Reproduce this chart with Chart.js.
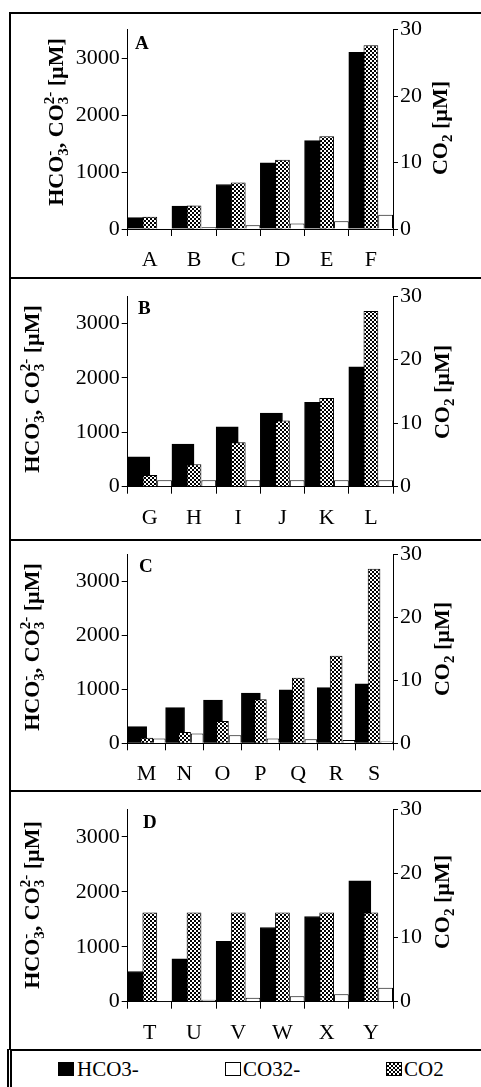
<!DOCTYPE html>
<html>
<head>
<meta charset="utf-8">
<title>HCO3-, CO32- and CO2</title>
<script src="https://cdn.jsdelivr.net/npm/chart.js@4.4.1/dist/chart.umd.min.js"></script>
<style>
  html, body { margin: 0; padding: 0; background: #fff; overflow: hidden; }
  body { width: 481px; height: 1087px; position: relative; font-family: 'Liberation Serif', 'Times New Roman', serif; }
  .box { position: absolute; left: 9px; width: 520px; border-left: 2px solid #000; border-top: 2px solid #000; box-sizing: border-box; }
  #legendBox { position: absolute; left: 7px; top: 1049px; width: 520px; height: 60px; border-left: 5px double #000; border-top: 2px solid #000; box-sizing: border-box; }
  canvas.panel { position: absolute; left: 0; }
  .sw { position: absolute; top: 1062px; width: 16px; height: 14px; box-sizing: border-box; border: 1px solid #000; }
  .lt { position: absolute; top: 1057px; font-size: 21px; line-height: 24px; color: #000; }
</style>
</head>
<body>
<div class="box" style="top:12px; height:265px"></div>
<div class="box" style="top:277px; height:262px"></div>
<div class="box" style="top:539px; height:251px"></div>
<div class="box" style="top:790px; height:259px"></div>
<div id="legendBox"></div>

<canvas id="cA" class="panel" style="top:12px" width="481" height="265"></canvas>
<canvas id="cB" class="panel" style="top:277px" width="481" height="262"></canvas>
<canvas id="cC" class="panel" style="top:539px" width="481" height="251"></canvas>
<canvas id="cD" class="panel" style="top:790px" width="481" height="259"></canvas>

<span class="sw" style="left:58px; background:#000"></span><span class="lt" style="left:77px">HCO3-</span>
<span class="sw" style="left:225px; background:#fff"></span><span class="lt" style="left:243px">CO32-</span>
<span class="sw" id="swCO2" style="left:386px"></span><span class="lt" style="left:404px">CO2</span>

<script>
// values
const catsA = ['A', 'B', 'C', 'D', 'E', 'F'];
const hco3A = [200, 400, 780, 1160, 1550, 3100];
const co3A = [15, 30, 65, 95, 135, 250];
const co2A = [1.85, 3.55, 7.0, 10.4, 13.95, 27.65];

const catsB = ['G', 'H', 'I', 'J', 'K', 'L'];
const hco3B = [550, 780, 1100, 1350, 1550, 2200];
const co3B = [120, 120, 120, 120, 120, 120];
const co2B = [1.85, 3.55, 7.0, 10.4, 13.95, 27.65];

const catsC = ['M', 'N', 'O', 'P', 'Q', 'R', 'S'];
const hco3C = [310, 660, 800, 930, 990, 1030, 1100];
const co3C = [90, 180, 150, 90, 75, 60, 35];
const co2C = [0.9, 1.8, 3.55, 7.0, 10.4, 13.9, 27.7];

const catsD = ['T', 'U', 'V', 'W', 'X', 'Y'];
const hco3D = [550, 780, 1100, 1350, 1550, 2200];
const co3D = [15, 35, 70, 100, 135, 255];
const co2D = [13.9, 13.9, 13.9, 13.9, 13.9, 13.9];

const leftTicks = [0, 1000, 2000, 3000];
const rightTicks = [0, 10, 20, 30];
const leftMax = 3500;
const rightMax = 30;

// axis titles, [text] or [sub, sup]
const leftTitle = [['HCO'], ['3', '-'], [', CO'], ['3', '2-'], [' [µM]']];
const rightTitle = [['CO'], ['2', ''], [' [µM]']];

const SERIF = '"Liberation Serif", "Times New Roman", serif';
const tickFont = { family: SERIF, size: 22 };

function checker() {
    const c = document.createElement('canvas');
    c.width = 4; c.height = 4;
    const g = c.getContext('2d');
    g.fillStyle = '#fff';
    g.fillRect(0, 0, 4, 4);
    g.fillStyle = '#000';
    g.fillRect(0, 0, 2, 2);
    g.fillRect(2, 2, 2, 2);
    return g.createPattern(c, 'repeat');
}
const checkerPattern = checker();
document.getElementById('swCO2').style.background =
    'repeating-conic-gradient(#000 0 25%, #fff 0 50%) 0 0 / 4px 4px';

function drawRotated(ctx, parts, x, y) {
    const big = 'bold 22px ' + SERIF;
    const small = 'bold 15px ' + SERIF;
    let total = 0;
    parts.forEach(p => {
        if (p.length === 1) { ctx.font = big; total += ctx.measureText(p[0]).width; }
        else { ctx.font = small; total += Math.max(ctx.measureText(p[0]).width, ctx.measureText(p[1]).width); }
    });
    ctx.save();
    ctx.translate(x, y);
    ctx.rotate(-Math.PI / 2);
    ctx.textBaseline = 'alphabetic';
    ctx.textAlign = 'left';
    let pos = -total / 2;
    parts.forEach(p => {
        if (p.length === 1) {
            ctx.font = big;
            ctx.fillText(p[0], pos, 0);
            pos += ctx.measureText(p[0]).width;
        } else {
            ctx.font = small;
            ctx.fillText(p[0], pos, 5);
            ctx.fillText(p[1], pos, -9);
            pos += Math.max(ctx.measureText(p[0]).width, ctx.measureText(p[1]).width);
        }
    });
    ctx.restore();
}

const panelText = {
    id: 'panelText',
    afterDraw(chart, args, o) {
        const ctx = chart.ctx;
        ctx.save();
        ctx.fillStyle = '#000';
        ctx.font = 'bold 19px ' + SERIF;
        ctx.textBaseline = 'alphabetic';
        ctx.fillText(o.letter, o.lx, o.ly);
        drawRotated(ctx, leftTitle, o.tx, o.ty);
        drawRotated(ctx, rightTitle, o.rx, o.ry);
        ctx.restore();
    }
};

const plotLeft = 127.7;
const plotRight = 393;

function makePanel(p) {
    return new Chart(document.getElementById(p.id), {
        type: 'bar',
        data: {
            labels: p.labels,
            datasets: [
                {
                    label: 'HCO3-', data: p.hco3, yAxisID: 'y', order: 1,
                    backgroundColor: '#000', borderColor: '#000', borderWidth: 1,
                    categoryPercentage: 1, barPercentage: 1
                },
                {
                    label: 'CO2', data: p.co2, yAxisID: 'y2', order: 0, grouped: false,
                    backgroundColor: checkerPattern, borderColor: '#000', borderWidth: 1,
                    categoryPercentage: 1, barPercentage: 1 / 3
                },
                {
                    label: 'CO32-', data: p.co3, yAxisID: 'y', order: 2,
                    backgroundColor: '#fff', borderColor: '#000', borderWidth: 1,
                    categoryPercentage: 4 / 3, barPercentage: 0.5
                }
            ]
        },
        options: {
            responsive: false,
            animation: false,
            layout: { padding: { top: p.top, left: 0, right: 0, bottom: 0 } },
            plugins: {
                legend: { display: false },
                tooltip: { enabled: false },
                panelText: { letter: p.letter, lx: p.lx, ly: p.ly, tx: p.tx, ty: p.ty, rx: p.rx, ry: p.ry }
            },
            scales: {
                x: {
                    offset: true,
                    grid: { offset: true, drawOnChartArea: false, tickLength: 7, color: '#000' },
                    border: { color: '#000', width: 1 },
                    ticks: { font: tickFont, color: '#000', padding: 11, maxRotation: 0, autoSkip: false },
                    afterFit: s => { s.height = p.h - p.bottom; }
                },
                y: {
                    position: 'left', min: 0, max: leftMax,
                    grid: { drawOnChartArea: false, tickLength: 6, color: '#000' },
                    border: { color: '#000', width: 1 },
                    ticks: { font: tickFont, color: '#000', padding: 2, callback: v => String(v) },
                    afterBuildTicks: s => { s.ticks = leftTicks.map(v => ({ value: v })); },
                    afterFit: s => { s.width = plotLeft; }
                },
                y2: {
                    position: 'right', min: 0, max: rightMax,
                    grid: { drawOnChartArea: false, tickLength: 5, color: '#000' },
                    border: { color: '#000', width: 1 },
                    ticks: { font: tickFont, color: '#000', padding: 2, callback: v => String(v) },
                    afterBuildTicks: s => { s.ticks = rightTicks.map(v => ({ value: v })); },
                    afterFit: s => { s.width = 481 - plotRight; }
                }
            }
        },
        plugins: [panelText]
    });
}

makePanel({ id: 'cA', labels: catsA, hco3: hco3A, co3: co3A, co2: co2A,
    h: 265, top: 17.5, bottom: 217, letter: 'A', lx: 135, ly: 37, tx: 63, ty: 110, rx: 447, ry: 116 });
makePanel({ id: 'cB', labels: catsB, hco3: hco3B, co3: co3B, co2: co2B,
    h: 262, top: 19, bottom: 209.7, letter: 'B', lx: 138, ly: 37, tx: 39, ty: 112, rx: 449, ry: 115 });
makePanel({ id: 'cC', labels: catsC, hco3: hco3C, co3: co3C, co2: co2C,
    h: 251, top: 12.7, bottom: 204.3, letter: 'C', lx: 139, ly: 33, tx: 39, ty: 108, rx: 449, ry: 110 });
makePanel({ id: 'cD', labels: catsD, hco3: hco3D, co3: co3D, co2: co2D,
    h: 259, top: 19.3, bottom: 211.7, letter: 'D', lx: 143, ly: 38, tx: 39, ty: 115, rx: 449, ry: 112 });
</script>
</body>
</html>
